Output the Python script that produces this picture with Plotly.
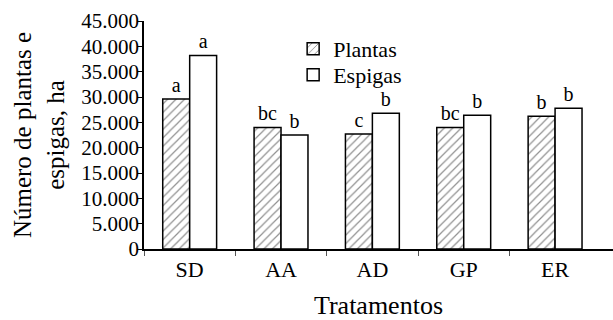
import plotly.graph_objects as go

categories = ["SD", "AA", "AD", "GP", "ER"]
plantas = [29600, 24000, 22700, 24000, 26200]
espigas = [38200, 22500, 26800, 26400, 27800]
plantas_letters = ["a", "bc", "c", "bc", "b"]
espigas_letters = ["a", "b", "b", "b", "b"]
y_ticks = [0, 5000, 10000, 15000, 20000, 25000, 30000, 35000, 40000, 45000]

positions = list(range(len(categories)))
boundaries = [p - 0.5 for p in positions]

FONT = "Liberation Serif, Times New Roman, serif"

fig = go.Figure()
fig.add_trace(go.Bar(
    x=positions, y=plantas, name="Plantas", legend="legend",
    text=plantas_letters, textposition="outside",
    textfont=dict(family=FONT, size=20, color="black"),
    marker=dict(color="white", line=dict(color="black", width=1.5),
                pattern=dict(shape="/", fgcolor="#222222", bgcolor="white",
                             size=6, solidity=0.2)),
    cliponaxis=False,
))
fig.add_trace(go.Bar(
    x=positions, y=espigas, name="Espigas", legend="legend2",
    text=espigas_letters, textposition="outside",
    textfont=dict(family=FONT, size=20, color="black"),
    marker=dict(color="white", line=dict(color="black", width=1.5)),
    cliponaxis=False,
))

x_range = [-0.5, 4.634]
legend_style = dict(xanchor="left", yanchor="middle",
                    font=dict(family=FONT, size=22, color="black"),
                    bgcolor="rgba(0,0,0,0)", itemwidth=30)

fig.update_layout(
    width=613, height=320,
    margin=dict(l=144, r=0, t=21, b=71),
    paper_bgcolor="white", plot_bgcolor="white",
    barmode="group", bargap=0.41, bargroupgap=0,
    separators=",.",
    font=dict(family=FONT, color="black"),
    showlegend=True,
    legend=dict(x=0.318, y=0.877, **legend_style),
    legend2=dict(x=0.318, y=0.763, **legend_style),
    xaxis=dict(
        range=x_range, tickvals=positions, ticktext=categories,
        ticks="", showgrid=False, zeroline=False,
        showline=True, linecolor="black", linewidth=1.5,
        tickfont=dict(family=FONT, size=22, color="black"),
        minor=dict(tickvals=boundaries, ticks="outside", ticklen=5,
                   tickcolor="#555555", tickwidth=1, showgrid=False),
        title=dict(text="Tratamentos", font=dict(family=FONT, size=26, color="black"),
                   standoff=24),
        automargin=False,
    ),
    xaxis2=dict(
        overlaying="x", matches="x", anchor="y", side="bottom",
        tickvals=boundaries, ticks="inside", ticklen=5, tickcolor="#555555",
        tickwidth=1, showticklabels=False, showgrid=False, zeroline=False,
        showline=False,
    ),
    yaxis=dict(
        range=[0, 45000], tickvals=y_ticks, tickformat=",.0f",
        ticks="outside", ticklen=5, tickcolor="black", tickwidth=1,
        ticklabelstandoff=-6,
        showgrid=False, zeroline=False,
        showline=True, linecolor="black", linewidth=1.5,
        tickfont=dict(family=FONT, size=21, color="black"),
        title=dict(text="Número de plantas e<br>espigas, ha",
                   font=dict(family=FONT, size=25, color="black"), standoff=10),
        automargin=False,
    ),
)

fig.write_html("out.html", config={"displayModeBar": False},
               post_script="document.body.style.margin='0';")
